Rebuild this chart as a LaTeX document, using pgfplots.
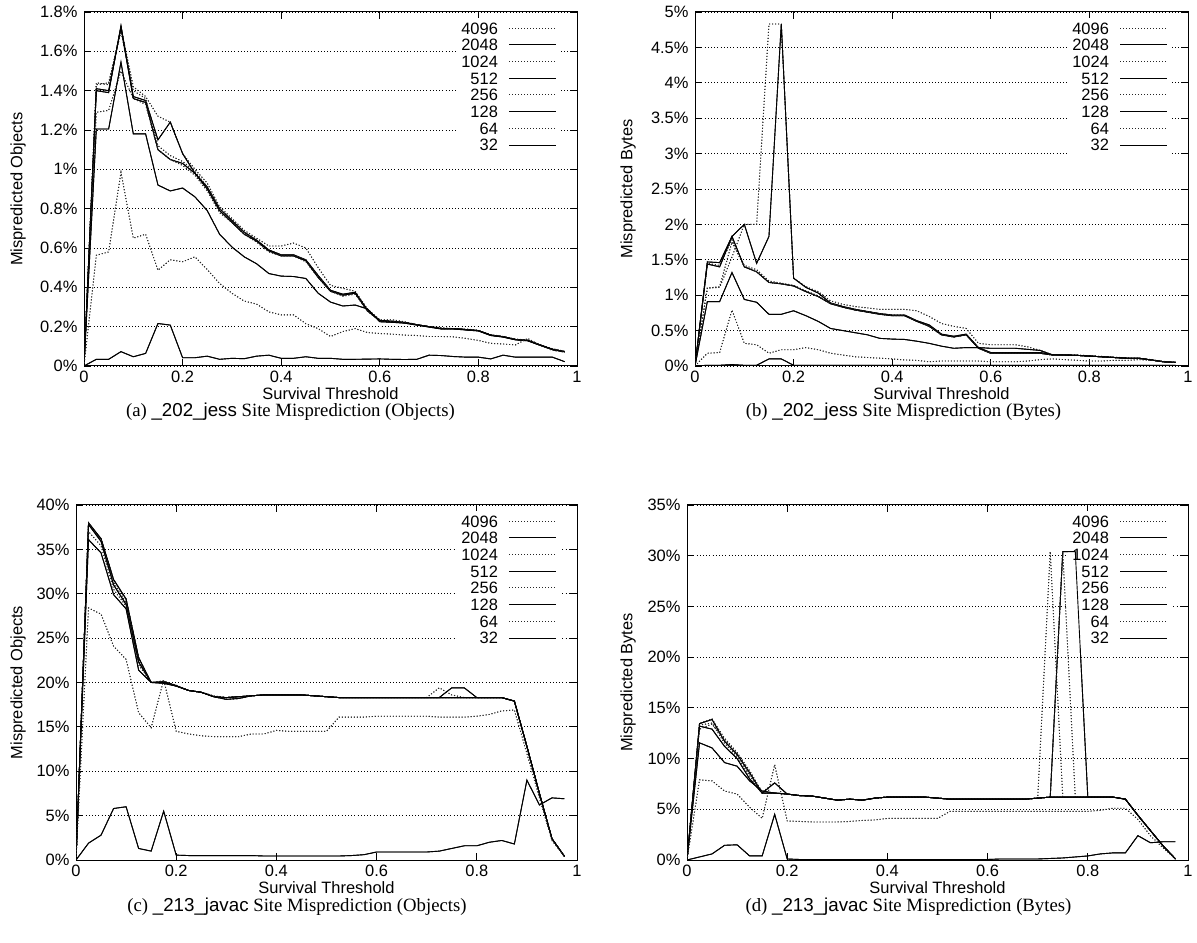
\documentclass[border=0pt]{standalone}
\usepackage{pgfplots}
\pgfplotsset{compat=1.18}
\usepackage{pgfplotstable}
\usepackage{fontspec}
\setmainfont{Liberation Serif}
\setsansfont{Liberation Sans}

\pgfplotstableread{
x a b c d e f g h
0 0 0 0 0 0 0 0 0
0.025 1.44 1.40 1.43 1.41 1.29 1.205 0.563 0.034
0.05 1.43 1.39 1.44 1.40 1.30 1.205 0.58 0.034
0.075 1.72 1.73 1.70 1.72 1.50 1.545 0.985 0.073
0.1 1.42 1.37 1.40 1.36 1.36 1.18 0.65 0.047
0.125 1.37 1.35 1.36 1.34 1.33 1.18 0.67 0.064
0.15 1.27 1.15 1.12 1.10 1.10 0.92 0.487 0.216
0.175 1.24 1.24 1.07 1.05 1.05 0.89 0.54 0.208
0.2 1.08 1.08 1.04 1.03 1.02 0.905 0.53 0.042
0.225 1.00 0.98 0.99 0.98 0.97 0.86 0.555 0.042
0.25 0.93 0.91 0.91 0.90 0.89 0.79 0.49 0.05
0.275 0.81 0.80 0.80 0.79 0.78 0.67 0.42 0.034
0.3 0.75 0.74 0.74 0.73 0.73 0.605 0.37 0.039
0.325 0.69 0.68 0.68 0.67 0.67 0.555 0.33 0.037
0.35 0.65 0.64 0.64 0.635 0.63 0.52 0.315 0.05
0.375 0.61 0.59 0.59 0.585 0.58 0.47 0.275 0.055
0.4 0.61 0.565 0.565 0.56 0.56 0.457 0.26 0.039
0.425 0.625 0.565 0.565 0.56 0.56 0.455 0.26 0.039
0.45 0.60 0.54 0.54 0.535 0.53 0.445 0.215 0.047
0.475 0.50 0.46 0.46 0.45 0.45 0.37 0.19 0.039
0.5 0.41 0.385 0.385 0.38 0.38 0.325 0.15 0.039
0.525 0.395 0.365 0.36 0.36 0.355 0.305 0.175 0.034
0.55 0.38 0.375 0.37 0.37 0.365 0.31 0.19 0.034
0.575 0.29 0.285 0.28 0.28 0.28 0.29 0.17 0.035
0.6 0.235 0.232 0.23 0.23 0.228 0.225 0.165 0.036
0.625 0.235 0.228 0.225 0.225 0.225 0.222 0.162 0.034
0.65 0.225 0.222 0.22 0.22 0.22 0.218 0.157 0.033
0.675 0.21 0.21 0.21 0.21 0.21 0.208 0.155 0.034
0.7 0.20 0.20 0.20 0.20 0.20 0.198 0.15 0.055
0.725 0.195 0.19 0.19 0.19 0.19 0.188 0.15 0.053
0.75 0.19 0.19 0.19 0.19 0.19 0.188 0.148 0.048
0.775 0.188 0.185 0.185 0.185 0.185 0.183 0.14 0.045
0.8 0.182 0.18 0.18 0.18 0.18 0.178 0.13 0.045
0.825 0.16 0.157 0.157 0.157 0.157 0.155 0.115 0.036
0.85 0.15 0.149 0.149 0.149 0.149 0.147 0.112 0.055
0.875 0.137 0.135 0.135 0.135 0.135 0.133 0.107 0.045
0.9 0.132 0.13 0.13 0.13 0.13 0.128 0.14 0.045
0.925 0.108 0.107 0.107 0.107 0.107 0.105 0.105 0.045
0.95 0.088 0.085 0.085 0.085 0.085 0.083 0.08 0.045
0.975 0.075 0.073 0.073 0.073 0.073 0.072 0.07 0.022
}\tA

\pgfplotstableread{
x a b c d e f g h
0 0 0 0 0 0 0 0 0
0.025 1.10 1.47 1.45 1.44 1.10 0.91 0.18 0.01
0.05 1.11 1.46 1.42 1.40 1.12 0.91 0.19 0.01
0.075 1.54 1.83 1.78 1.83 1.75 1.32 0.79 0.02
0.1 2.0 2.0 1.42 1.40 1.40 0.94 0.32 0.01
0.125 2.0 1.45 1.36 1.33 1.33 0.90 0.30 0.01
0.15 4.83 1.83 1.20 1.18 1.18 0.73 0.18 0.1
0.175 4.83 4.83 1.17 1.16 1.16 0.73 0.23 0.1
0.2 1.24 1.24 1.14 1.13 1.13 0.78 0.23 0.01
0.225 1.12 1.11 1.06 1.05 1.05 0.71 0.26 0.01
0.25 1.05 1.03 0.99 0.98 0.98 0.63 0.23 0.01
0.275 0.92 0.89 0.89 0.88 0.88 0.53 0.18 0.01
0.3 0.87 0.84 0.84 0.83 0.83 0.50 0.155 0.01
0.325 0.84 0.80 0.80 0.79 0.79 0.47 0.13 0.01
0.35 0.82 0.77 0.77 0.76 0.76 0.44 0.12 0.01
0.375 0.80 0.74 0.74 0.73 0.73 0.39 0.11 0.01
0.4 0.80 0.72 0.72 0.71 0.71 0.38 0.10 0.01
0.425 0.80 0.72 0.72 0.71 0.71 0.375 0.085 0.01
0.45 0.78 0.64 0.63 0.63 0.63 0.35 0.08 0.01
0.475 0.70 0.58 0.57 0.56 0.56 0.32 0.06 0.01
0.5 0.60 0.45 0.44 0.44 0.44 0.28 0.07 0.01
0.525 0.56 0.42 0.41 0.41 0.41 0.25 0.07 0.01
0.55 0.53 0.45 0.44 0.44 0.44 0.26 0.07 0.01
0.575 0.32 0.26 0.25 0.25 0.25 0.26 0.07 0.01
0.6 0.30 0.19 0.18 0.18 0.18 0.25 0.06 0.01
0.625 0.30 0.19 0.18 0.18 0.18 0.25 0.06 0.01
0.65 0.30 0.19 0.18 0.18 0.18 0.25 0.06 0.01
0.675 0.27 0.19 0.18 0.18 0.18 0.235 0.07 0.01
0.7 0.22 0.19 0.18 0.18 0.18 0.22 0.09 0.01
0.725 0.16 0.16 0.155 0.155 0.155 0.155 0.10 0.01
0.75 0.16 0.155 0.155 0.155 0.155 0.155 0.09 0.01
0.775 0.155 0.15 0.15 0.15 0.15 0.15 0.08 0.01
0.8 0.145 0.14 0.14 0.14 0.14 0.14 0.07 0.01
0.825 0.135 0.13 0.13 0.13 0.13 0.13 0.07 0.01
0.85 0.125 0.12 0.12 0.12 0.12 0.12 0.08 0.01
0.875 0.115 0.11 0.11 0.11 0.11 0.11 0.08 0.01
0.9 0.11 0.11 0.11 0.11 0.11 0.11 0.09 0.01
0.925 0.09 0.085 0.085 0.085 0.085 0.085 0.08 0.01
0.95 0.065 0.06 0.06 0.06 0.06 0.06 0.06 0.01
0.975 0.055 0.05 0.05 0.05 0.05 0.05 0.05 0.01
}\tB

\pgfplotstableread{
x a b c d e f g h
0 0 0 0 0 0 0 0 0
0.025 37.8 38.0 37.9 37.8 37.0 36.1 28.4 1.9
0.05 36.2 36.2 36.0 35.9 35.4 34.6 27.7 2.8
0.075 31.6 31.6 31.3 31.0 30.5 29.9 24.1 5.8
0.1 29.4 29.4 29.0 28.8 28.6 28.3 22.6 6.0
0.125 22.8 22.8 22.5 22.3 22.0 21.4 16.6 1.3
0.15 20.0 20.0 20.0 20.0 20.0 20.0 14.9 1.0
0.175 20.1 20.1 20.0 20.0 20.2 19.9 20.3 5.5
0.2 19.7 19.65 19.6 19.6 19.6 19.6 14.5 0.55
0.225 19.1 19.1 19.1 19.1 19.1 19.1 14.2 0.5
0.25 18.9 18.9 18.9 18.9 18.9 18.9 14.0 0.5
0.275 18.5 18.4 18.4 18.4 18.4 18.4 13.9 0.5
0.3 18.3 18.3 18.1 18.1 18.3 18.3 13.9 0.5
0.325 18.4 18.4 18.2 18.2 18.4 18.4 13.9 0.5
0.35 18.5 18.5 18.5 18.5 18.5 18.5 14.2 0.5
0.375 18.6 18.6 18.6 18.6 18.6 18.6 14.2 0.45
0.4 18.6 18.6 18.6 18.6 18.6 18.6 14.6 0.45
0.425 18.6 18.6 18.6 18.6 18.6 18.6 14.5 0.45
0.45 18.6 18.6 18.6 18.6 18.6 18.6 14.5 0.45
0.475 18.5 18.5 18.5 18.5 18.5 18.5 14.5 0.45
0.5 18.4 18.4 18.4 18.4 18.4 18.4 14.5 0.45
0.525 18.3 18.3 18.3 18.3 18.3 18.3 16.1 0.45
0.55 18.3 18.3 18.3 18.3 18.3 18.3 16.1 0.5
0.575 18.3 18.3 18.3 18.3 18.3 18.3 16.1 0.6
0.6 18.3 18.3 18.3 18.3 18.3 18.3 16.2 0.9
0.625 18.3 18.3 18.3 18.3 18.3 18.3 16.2 0.9
0.65 18.3 18.3 18.3 18.3 18.3 18.3 16.2 0.9
0.675 18.3 18.3 18.3 18.3 18.3 18.3 16.2 0.9
0.7 18.3 18.3 18.3 18.3 18.3 18.3 16.2 0.9
0.725 19.4 18.3 18.3 18.3 18.3 18.3 16.1 1.0
0.75 18.6 19.4 18.3 18.3 18.3 18.3 16.1 1.3
0.775 18.3 19.4 18.3 18.3 18.3 18.3 16.1 1.6
0.8 18.3 18.3 18.3 18.3 18.3 18.3 16.2 1.6
0.825 18.3 18.3 18.3 18.3 18.3 18.3 16.4 2.0
0.85 18.3 18.3 18.3 18.3 18.3 18.3 16.8 2.2
0.875 17.9 17.9 17.9 17.9 17.9 17.9 16.9 1.8
0.9 12.8 12.8 12.8 12.8 12.8 12.8 12.0 9.0
0.925 7.5 7.5 7.5 7.5 7.5 7.5 7.0 6.2
0.95 2.4 2.4 2.4 2.4 2.4 2.4 2.2 7.0
0.975 0.4 0.4 0.4 0.4 0.4 0.4 0.4 6.9
}\tC

\pgfplotstableread{
x a b c d e f g h
0 0 0 0 0 0 0 0 0
0.025 13.45 13.45 13.3 13.2 12.9 11.55 7.9 0.3
0.05 13.9 13.85 13.5 12.9 13.4 11.05 7.8 0.6
0.075 12.0 11.7 11.5 11.2 11.9 9.6 6.8 1.45
0.1 10.6 10.4 10.2 10.0 10.5 9.25 6.5 1.5
0.125 8.8 8.6 8.3 8.0 8.5 7.8 5.2 0.4
0.15 6.7 6.6 6.6 6.6 6.7 6.8 4.1 0.4
0.175 7.6 7.6 6.6 6.6 6.6 6.6 9.4 4.5
0.2 6.5 6.5 6.5 6.5 6.5 6.5 3.85 0.1
0.225 6.35 6.35 6.35 6.35 6.35 6.35 3.8 0.05
0.25 6.3 6.3 6.3 6.3 6.3 6.3 3.75 0.05
0.275 6.1 6.1 6.1 6.1 6.1 6.1 3.75 0.05
0.3 5.9 5.9 5.9 5.9 5.9 5.9 3.75 0.05
0.325 6.0 6.0 6.0 6.0 6.0 6.0 3.8 0.05
0.35 5.9 5.9 5.9 5.9 5.9 5.9 3.9 0.05
0.375 6.1 6.1 6.1 6.1 6.1 6.1 3.95 0.05
0.4 6.2 6.2 6.2 6.2 6.2 6.2 4.1 0.05
0.425 6.2 6.2 6.2 6.2 6.2 6.2 4.1 0.05
0.45 6.2 6.2 6.2 6.2 6.2 6.2 4.1 0.05
0.475 6.2 6.2 6.2 6.2 6.2 6.2 4.1 0.05
0.5 6.1 6.1 6.1 6.1 6.1 6.1 4.1 0.05
0.525 6.0 6.0 6.0 6.0 6.0 6.0 4.8 0.05
0.55 6.0 6.0 6.0 6.0 6.0 6.0 4.8 0.05
0.575 6.0 6.0 6.0 6.0 6.0 6.0 4.8 0.05
0.6 6.0 6.0 6.0 6.0 6.0 6.0 4.8 0.05
0.625 6.0 6.0 6.0 6.0 6.0 6.0 4.8 0.1
0.65 6.0 6.0 6.0 6.0 6.0 6.0 4.8 0.1
0.675 6.0 6.0 6.0 6.0 6.0 6.0 4.8 0.1
0.7 6.1 6.1 6.1 6.1 6.1 6.1 4.8 0.1
0.725 30.4 6.2 6.2 6.2 6.2 6.2 4.8 0.15
0.75 6.2 30.4 30.4 6.2 6.2 6.2 4.8 0.2
0.775 6.2 30.4 6.2 6.2 6.2 6.2 4.8 0.3
0.8 6.2 6.2 6.2 6.2 6.2 6.2 4.8 0.4
0.825 6.2 6.2 6.2 6.2 6.2 6.2 4.9 0.6
0.85 6.2 6.2 6.2 6.2 6.2 6.2 5.1 0.7
0.875 6.0 6.0 6.0 6.0 6.0 6.0 5.1 0.7
0.9 4.4 4.4 4.4 4.4 4.4 4.4 4.0 2.4
0.925 2.9 2.9 2.9 2.9 2.9 2.9 2.4 1.7
0.95 1.4 1.4 1.4 1.4 1.4 1.4 1.2 1.8
0.975 0.1 0.1 0.1 0.1 0.1 0.1 0.1 1.8
}\tD

\newcommand{\lf}{\fontsize{16.5}{18}\selectfont\sffamily}

\pgfplotsset{
  soll/.style={black, line width=0.9bp, solid},
  dotl/.style={black!85, line width=0.9bp, dash pattern=on 1bp off 2bp},
  panel/.style={
    scale only axis,
    xmin=0, xmax=1, ymin=0,
    xtick={0,0.2,0.4,0.6,0.8,1},
    xticklabels={0,0.2,0.4,0.6,0.8,1},
    tick align=inside,
    major tick length=7bp,
    tick style={black, line width=0.8bp},
    axis line style={line width=1bp},
    ymajorgrids,
    major grid style={black, line width=0.8bp, dash pattern=on 1bp off 2.2bp},
    tick label style={font=\lf},
    xticklabel style={yshift=-2bp},
    yticklabel style={xshift=-3bp},
    /pgf/number format/assume math mode=true,
    xlabel={Survival Threshold},
    xlabel style={font=\lf, at={(axis description cs:0.5,0)}, anchor=center, yshift=-28bp},
    ylabel style={font=\lf, at={(axis description cs:0,0.5)}, anchor=center},
    legend plot pos=right,
    legend cell align=right,
    legend image code/.code={\draw[##1] (0bp,0bp) -- (47bp,0bp);},
    legend style={draw=none, fill=white, at={(rel axis cs:1,1)}, anchor=north east,
      xshift=-16bp, yshift=-5.6bp, inner xsep=4bp, inner ysep=2bp, font=\lf,
      row sep=0pt, column sep=11bp,
      nodes={inner xsep=0pt, inner ysep=2.45bp, text height=11.8bp, text depth=0bp}},
  },
  over/.style={scale only axis, hide axis, xmin=0, xmax=1, ymin=0},
}

\newcommand{\plotlines}[1]{%
  \addplot[dotl] table[x=x,y=a]{#1};
  \addplot[soll] table[x=x,y=b]{#1};
  \addplot[dotl] table[x=x,y=c]{#1};
  \addplot[soll] table[x=x,y=d]{#1};
  \addplot[dotl] table[x=x,y=e]{#1};
  \addplot[soll] table[x=x,y=f]{#1};
  \addplot[dotl] table[x=x,y=g]{#1};
  \addplot[soll] table[x=x,y=h]{#1};
}
\newcommand{\plotall}[1]{%
  \plotlines{#1}%
  \legend{4096,2048,1024,512,256,128,64,32}%
}

\begin{document}
\begin{tikzpicture}
\path (0bp,0bp) rectangle (1197bp,943bp);

% (a)
\begin{axis}[panel, at={(84bp,577bp)}, anchor=south west, width=493bp, height=354bp,
  ymax=1.8, ytick={0,0.2,0.4,0.6,0.8,1,1.2,1.4,1.6,1.8},
  yticklabels={0\%,0.2\%,0.4\%,0.6\%,0.8\%,1\%,1.2\%,1.4\%,1.6\%,1.8\%},
  ylabel={Mispredicted Objects}, ylabel style={yshift=66bp}]
\plotall{\tA}
\end{axis}
\begin{axis}[over, at={(84bp,577bp)}, anchor=south west, width=493bp, height=354bp, ymax=1.8]
\plotlines{\tA}
\end{axis}

% (b)
\begin{axis}[panel, at={(695bp,577bp)}, anchor=south west, width=493bp, height=354bp,
  ymax=5, ytick={0,0.5,1,1.5,2,2.5,3,3.5,4,4.5,5},
  yticklabels={0\%,0.5\%,1\%,1.5\%,2\%,2.5\%,3\%,3.5\%,4\%,4.5\%,5\%},
  ylabel={Mispredicted Bytes}, ylabel style={yshift=67bp}]
\plotall{\tB}
\end{axis}
\begin{axis}[over, at={(695bp,577bp)}, anchor=south west, width=493bp, height=354bp, ymax=5]
\plotlines{\tB}
\end{axis}

% (c)
\begin{axis}[panel, at={(76bp,83bp)}, anchor=south west, width=501bp, height=355bp,
  ymax=40, ytick={0,5,10,15,20,25,30,35,40},
  yticklabels={0\%,5\%,10\%,15\%,20\%,25\%,30\%,35\%,40\%},
  ylabel={Mispredicted Objects}, ylabel style={yshift=58bp}]
\plotall{\tC}
\end{axis}
\begin{axis}[over, at={(76bp,83bp)}, anchor=south west, width=501bp, height=355bp, ymax=40]
\plotlines{\tC}
\end{axis}

% (d)
\begin{axis}[panel, at={(687bp,83bp)}, anchor=south west, width=501bp, height=355bp,
  ymax=35, ytick={0,5,10,15,20,25,30,35},
  yticklabels={0\%,5\%,10\%,15\%,20\%,25\%,30\%,35\%},
  ylabel={Mispredicted Bytes}, ylabel style={yshift=59bp}]
\plotall{\tD}
\end{axis}
\begin{axis}[over, at={(687bp,83bp)}, anchor=south west, width=501bp, height=355bp, ymax=35]
\plotlines{\tD}
\end{axis}

\node[font=\fontsize{18.8}{21}\selectfont] at (290.5bp,531bp) {(a) \textsf{\_202\_jess} Site Misprediction (Objects)};
\node[font=\fontsize{18.8}{21}\selectfont] at (903.5bp,531bp) {(b) \textsf{\_202\_jess} Site Misprediction (Bytes)};
\node[font=\fontsize{18.8}{21}\selectfont] at (297bp,36bp) {(c) \textsf{\_213\_javac} Site Misprediction (Objects)};
\node[font=\fontsize{18.8}{21}\selectfont] at (908.5bp,36bp) {(d) \textsf{\_213\_javac} Site Misprediction (Bytes)};
\end{tikzpicture}
\end{document}
